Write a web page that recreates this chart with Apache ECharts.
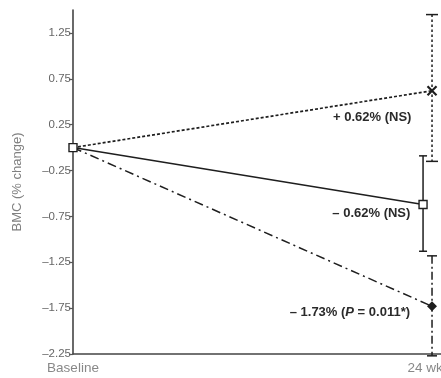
<!DOCTYPE html>
<html><head><meta charset="utf-8">
<script src="https://cdn.jsdelivr.net/npm/echarts@6/dist/echarts.min.js"></script>
<style>html,body{margin:0;padding:0;background:#fff}#c{width:441px;height:378px}</style>
</head><body><div id="c"></div>
<script>
// ---- data ----
const timeLabels = ['Baseline', '24 wk'];
const timeWeeks = [0, 24];
const yTicks = [-2.25, -1.75, -1.25, -0.75, -0.25, 0.25, 0.75, 1.25];
const groupCross = [0, 0.62];      // dotted line, X marker
const groupSquare = [0, -0.62];    // solid line, open square
const groupDiamond = [0, -1.73];   // dash-dot line, filled diamond
const errCross = [-0.15, 1.45];    // [low, high] at 24 wk
const errSquare = [-1.13, -0.09];
const errDiamond = [-2.27, -1.18];
const notes = ['+ 0.62% (NS)', '\u2013 0.62% (NS)', '\u2013 1.73% ({i|P} = 0.011*)'];

// ---- styles ----
const ink = '#1e1e1e';
const dodgeSquare = -0.6;
const FONT = 'Liberation Sans, Arial, sans-serif';

function fmtTick(v) {
  const s = Math.abs(v).toFixed(2);
  return v < 0 ? '\u2013' + s : s;
}
function noteLabel(text, offset) {
  return {
    show: true, position: 'left', distance: 4, offset: offset,
    formatter: text, fontFamily: FONT, fontSize: 13, fontWeight: 'bold', color: '#2a2a2a',
    rich: { i: { fontStyle: 'italic', fontWeight: 'bold', fontSize: 13, fontFamily: FONT, color: '#2a2a2a' } }
  };
}
function errSeries(x, range, dash, capHalf) {
  return {
    type: 'custom', z: 1, silent: true,
    data: [[x, range[0], range[1]]],
    renderItem: function (params, api) {
      const xv = api.value(0);
      const a = api.coord([xv, api.value(2)]);
      const b = api.coord([xv, api.value(1)]);
      const st = { stroke: ink, lineWidth: 1.5, lineDash: dash };
      const cs = { stroke: ink, lineWidth: 1.5 };
      return { type: 'group', children: [
        { type: 'line', shape: { x1: a[0], y1: a[1], x2: b[0], y2: b[1] }, style: st },
        { type: 'line', shape: { x1: a[0] - capHalf, y1: a[1], x2: a[0] + capHalf, y2: a[1] }, style: cs },
        { type: 'line', shape: { x1: b[0] - capHalf, y1: b[1], x2: b[0] + capHalf, y2: b[1] }, style: cs }
      ]};
    }
  };
}

const chart = echarts.init(document.getElementById('c'), null, { renderer: 'canvas' });
chart.setOption({
  animation: false,
  backgroundColor: '#fff',
  grid: { left: 73, right: 0, top: 10, bottom: 24, outerBoundsMode: 'none', containLabel: false },
  xAxis: {
    type: 'value', min: 0, max: 24.6,
    axisLine: { show: true, onZero: false, lineStyle: { color: '#444', width: 1.6 } },
    axisTick: { show: false },
    splitLine: { show: false },
    axisLabel: {
      customValues: timeWeeks, margin: 7,
      fontFamily: FONT, fontSize: 13.5, color: '#888',
      formatter: function (v) {
        const i = timeWeeks.indexOf(v);
        return i === timeWeeks.length - 1 ? '{r|' + timeLabels[i] + '}' : timeLabels[i];
      },
      rich: { r: { fontFamily: FONT, fontSize: 13.5, color: '#888', padding: [0, 14, 0, 0] } }
    }
  },
  yAxis: {
    type: 'value', min: -2.25, max: 1.5,
    name: 'BMC (% change)', nameLocation: 'middle', nameGap: 49, nameRotate: 90,
    nameTextStyle: { fontFamily: FONT, fontSize: 13, color: '#808080' },
    axisLine: { show: true, lineStyle: { color: '#444', width: 1.6 } },
    axisTick: { show: true, customValues: yTicks, length: 4, lineStyle: { color: '#555', width: 1.2 } },
    splitLine: { show: false },
    axisLabel: {
      customValues: yTicks, margin: 2,
      fontFamily: FONT, fontSize: 11.5, color: '#666',
      formatter: fmtTick
    }
  },
  series: [
    errSeries(timeWeeks[1], errCross, [2.5, 2.5], 6),
    errSeries(timeWeeks[1] + dodgeSquare, errSquare, null, 4),
    errSeries(timeWeeks[1], errDiamond, [8, 3, 2, 3], 5),
    {
      type: 'line', z: 3,
      data: [
        { value: [timeWeeks[0], groupCross[0]], symbol: 'none' },
        { value: [timeWeeks[1], groupCross[1]], label: noteLabel(notes[0], [-11, 27]) }
      ],
      symbol: 'path://M0,0L10,10M10,0L0,10', symbolSize: 9,
      itemStyle: { color: ink, borderColor: ink, borderWidth: 2.2 },
      lineStyle: { color: ink, width: 1.7, type: [3, 2] }
    },
    {
      type: 'line', z: 4,
      data: [
        { value: [timeWeeks[0], groupSquare[0]] },
        { value: [timeWeeks[1] + dodgeSquare, groupSquare[1]], label: noteLabel(notes[1], [-4, 9]) }
      ],
      symbol: 'rect', symbolSize: 8,
      itemStyle: { color: '#fff', borderColor: ink, borderWidth: 1.4 },
      lineStyle: { color: ink, width: 1.5, type: 'solid' }
    },
    {
      type: 'line', z: 3,
      data: [
        { value: [timeWeeks[0], groupDiamond[0]], symbol: 'none' },
        { value: [timeWeeks[1], groupDiamond[1]], label: noteLabel(notes[2], [-13, 6]) }
      ],
      symbol: 'diamond', symbolSize: 10,
      itemStyle: { color: ink, borderColor: ink, borderWidth: 0 },
      lineStyle: { color: ink, width: 1.5, type: [9, 4, 2, 4] }
    }
  ]
});
</script>
</body></html>
